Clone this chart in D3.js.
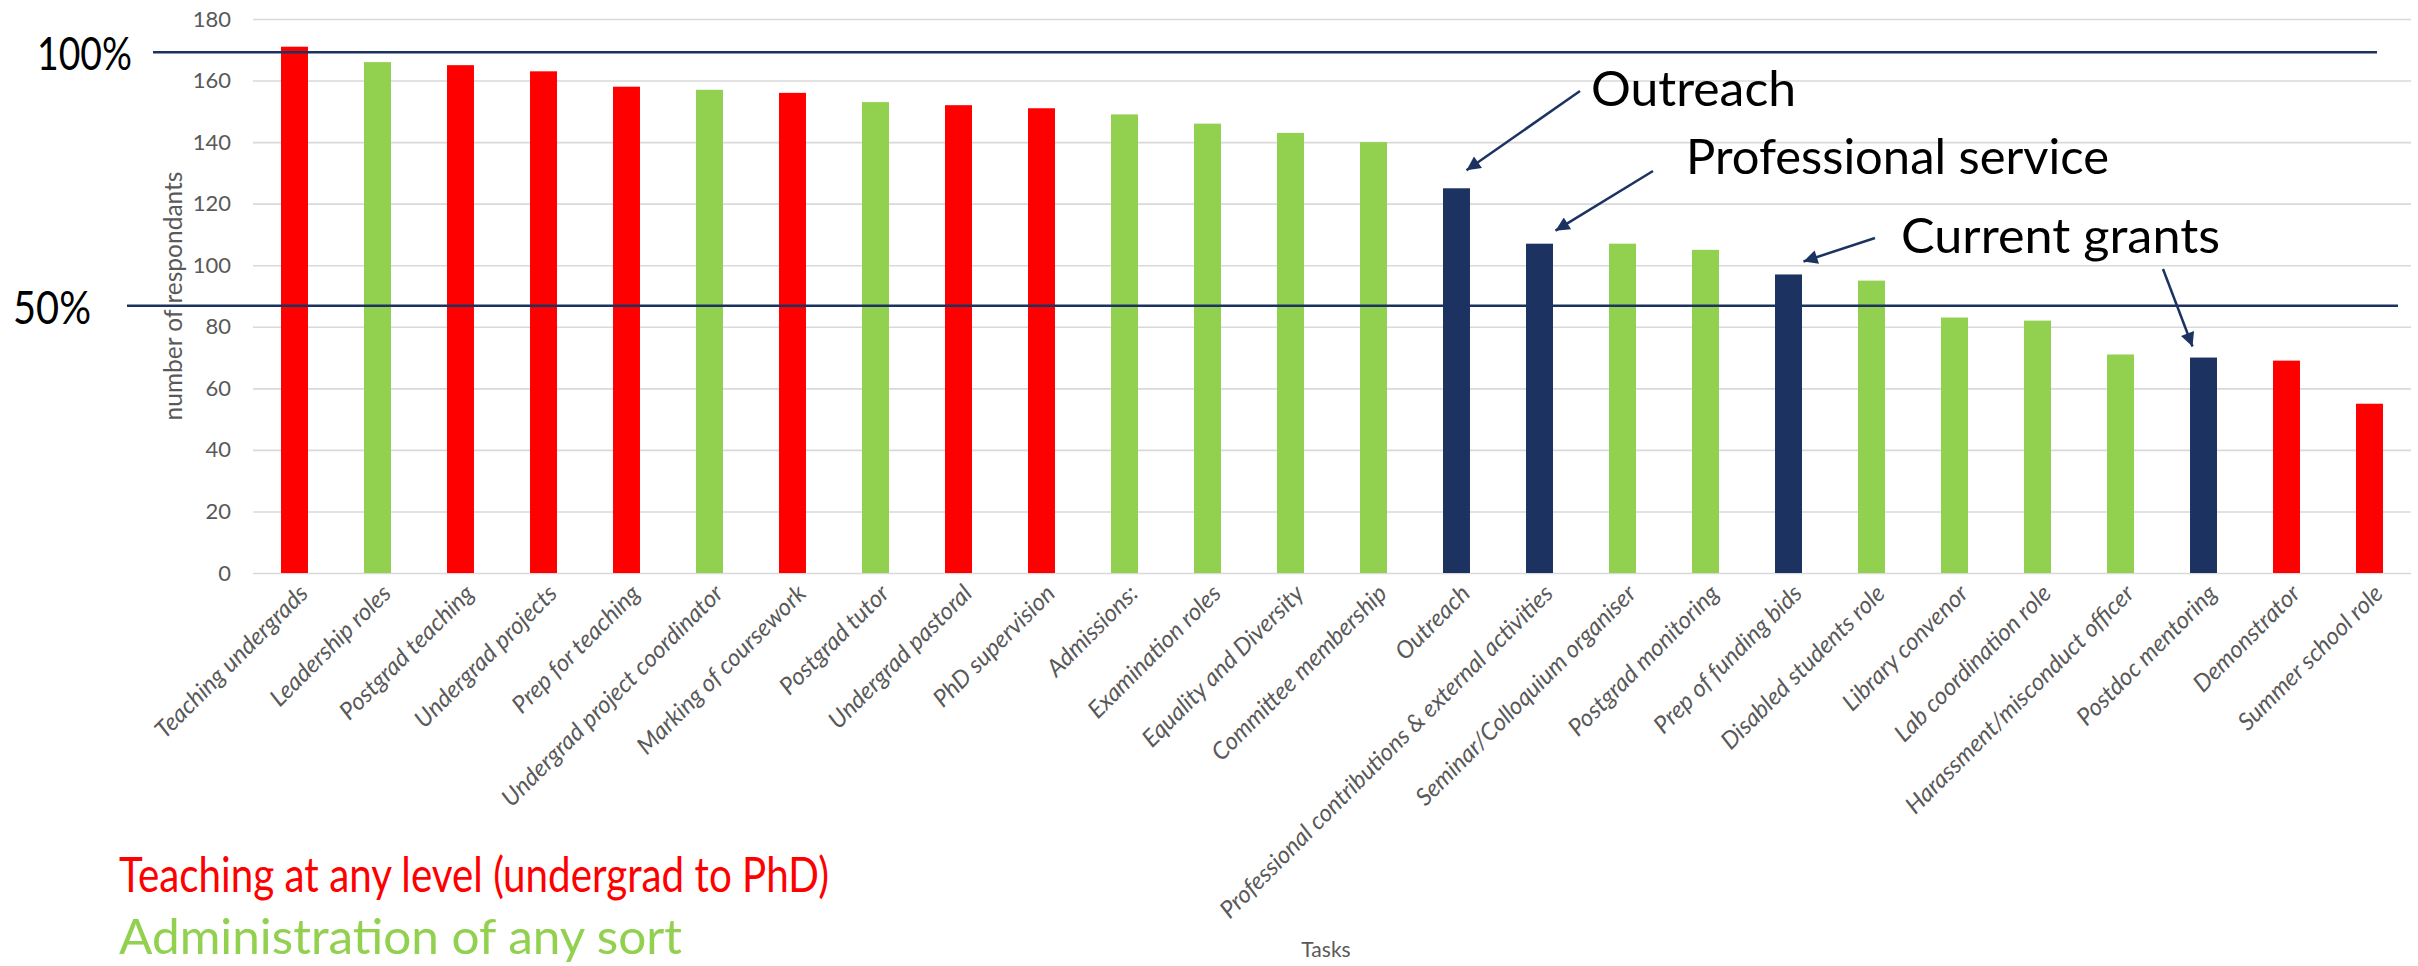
<!DOCTYPE html>
<html>
<head>
<meta charset="utf-8">
<script src="https://cdn.jsdelivr.net/npm/d3@7"></script>
<style>
  body { margin: 0; background: #fff; }
  svg { display: block; }
  text { font-family: Lato, "Open Sans", sans-serif; }
</style>
</head>
<body>
<svg width="2418" height="966"></svg>
<script>
// Data
const tasks = [
  "Teaching undergrads", "Leadership roles", "Postgrad teaching", "Undergrad projects",
  "Prep for teaching", "Undergrad project coordinator", "Marking of coursework", "Postgrad tutor",
  "Undergrad pastoral", "PhD supervision", "Admissions:", "Examination roles",
  "Equality and Diversity", "Committee membership", "Outreach",
  "Professional contributions & external activities", "Seminar/Colloquium organiser",
  "Postgrad monitoring", "Prep of funding bids", "Disabled students role", "Library convenor",
  "Lab coordination role", "Harassment/misconduct officer", "Postdoc mentoring",
  "Demonstrator", "Summer school role"
];
const respondents = [171, 166, 165, 163, 158, 157, 156, 153, 152, 151, 149, 146, 143, 140,
  125, 107, 107, 105, 97, 95, 83, 82, 71, 70, 69, 55];
const taskGroup = ["teach", "admin", "teach", "teach", "teach", "admin", "teach", "admin",
  "teach", "teach", "admin", "admin", "admin", "admin", "other", "other", "admin", "admin",
  "other", "admin", "admin", "admin", "admin", "other", "teach", "teach"];
const yTicks = [0, 20, 40, 60, 80, 100, 120, 140, 160, 180];

// reference lines (100% / 50% of respondents)
const refLabels = ["100%", "50%"];
const refValues = [169.2, 86.8];

// callouts
const calloutLabels = ["Outreach", "Professional service", "Current grants"];
const calloutTargets = ["Outreach", "Professional contributions & external activities",
  "Prep of funding bids", "Postdoc mentoring"];

const legendLabels = ["Teaching at any level (undergrad to PhD)", "Administration of any sort"];

const colors = { teach: "#ff0000", admin: "#92d050", other: "#1c3361" };
const navy = "#1c3361";
const grey = "#595959";

const width = 2418, height = 966;
const margin = { top: 19, right: 7, bottom: 393, left: 253 };
const svg = d3.select("svg");

const x = d3.scaleBand()
  .domain(tasks)
  .range([margin.left, width - margin.right])
  .paddingInner(0.675)
  .paddingOuter(0.3375);

const y = d3.scaleLinear()
  .domain([0, 180])
  .range([height - margin.bottom, margin.top]);

// gridlines + y labels
const yAxis = svg.append("g")
  .attr("transform", `translate(${margin.left},0)`)
  .call(d3.axisLeft(y).tickValues(yTicks).tickSize(-(width - margin.left - margin.right)).tickPadding(22));
yAxis.select(".domain").remove();
yAxis.selectAll("line").attr("stroke", "#d9d9d9").attr("stroke-width", 1.6);
yAxis.selectAll("text").attr("fill", grey).style("font-size", "22px");

// bars
svg.append("g").selectAll("rect")
  .data(tasks)
  .join("rect")
  .attr("x", d => x(d))
  .attr("width", x.bandwidth())
  .attr("y", (d, i) => y(respondents[i]))
  .attr("height", (d, i) => y(0) - y(respondents[i]))
  .attr("fill", (d, i) => colors[taskGroup[i]]);

// x axis labels
const xAxis = svg.append("g")
  .attr("transform", `translate(0,${y(0)})`)
  .call(d3.axisBottom(x).tickSize(0));
xAxis.select(".domain").remove();
xAxis.selectAll("text")
  .attr("x", 0).attr("y", 0).attr("dy", 0)
  .attr("transform", "translate(15,22) rotate(-45)")
  .attr("text-anchor", "end")
  .attr("fill", grey)
  .style("font-size", "24px")
  .style("font-style", "italic");

// axis titles
svg.append("text")
  .attr("transform", `translate(173,${(y(0) + y(180)) / 2}) rotate(-90)`)
  .attr("dy", "0.35em")
  .attr("text-anchor", "middle")
  .attr("fill", grey)
  .style("font-size", "24.5px")
  .text("number of respondants");

svg.append("text")
  .attr("x", 1326)
  .attr("y", 957)
  .attr("text-anchor", "middle")
  .attr("fill", grey)
  .style("font-size", "21px")
  .text("Tasks");

// reference lines
const refStart = [153, 127], refEnd = [2377, 2398];
const refTextX = [37, 13], refTextW = [95, 78];
refValues.forEach((v, i) => {
  svg.append("line")
    .attr("x1", refStart[i]).attr("x2", refEnd[i])
    .attr("y1", y(v)).attr("y2", y(v))
    .attr("stroke", navy).attr("stroke-width", 2.5);
  svg.append("text")
    .attr("x", refTextX[i])
    .attr("y", y(v) + 18)
    .attr("textLength", refTextW[i])
    .attr("lengthAdjust", "spacingAndGlyphs")
    .style("font-size", "46px")
    .attr("fill", "#000")
    .text(refLabels[i]);
});

// callout texts
const calloutPos = [[1591, 106, 205], [1686, 174, 423], [1901, 253, 319]];
calloutLabels.forEach((t, i) => {
  svg.append("text")
    .attr("x", calloutPos[i][0])
    .attr("y", calloutPos[i][1])
    .attr("textLength", calloutPos[i][2])
    .attr("lengthAdjust", "spacingAndGlyphs")
    .style("font-size", "49px")
    .attr("fill", "#000")
    .text(t);
});

// arrows
svg.append("defs").append("marker")
  .attr("id", "head")
  .attr("viewBox", "0 0 10 10")
  .attr("refX", 10).attr("refY", 5)
  .attr("markerWidth", 17).attr("markerHeight", 14)
  .attr("markerUnits", "userSpaceOnUse")
  .attr("orient", "auto")
  .append("path")
  .attr("d", "M0,0 L10,5 L0,10 z")
  .attr("fill", navy);

const arrowFrom = [[1580, 91], [1653, 171], [1875, 238], [2163, 269]];
const arrowOffset = [[10, -18], [16, -13], [15, -13], [-11, -11]];
calloutTargets.forEach((t, i) => {
  const k = tasks.indexOf(t);
  svg.append("line")
    .attr("x1", arrowFrom[i][0]).attr("y1", arrowFrom[i][1])
    .attr("x2", x(t) + x.bandwidth() / 2 + arrowOffset[i][0])
    .attr("y2", y(respondents[k]) + arrowOffset[i][1])
    .attr("stroke", navy).attr("stroke-width", 2.5)
    .attr("marker-end", "url(#head)");
});

// legend text
const legendColors = [colors.teach, colors.admin];
const legendY = [892, 954], legendW = [710, 563];
legendLabels.forEach((t, i) => {
  svg.append("text")
    .attr("x", 119)
    .attr("y", legendY[i])
    .attr("textLength", legendW[i])
    .attr("lengthAdjust", "spacingAndGlyphs")
    .style("font-size", "49px")
    .attr("fill", legendColors[i])
    .text(t);
});
</script>
</body>
</html>
